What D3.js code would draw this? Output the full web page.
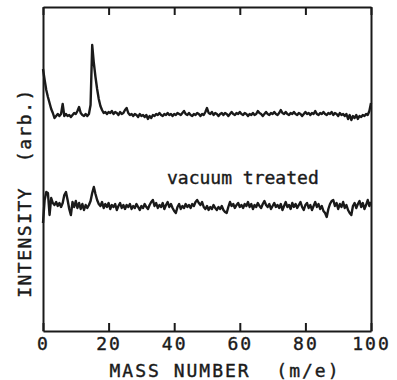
<!DOCTYPE html>
<html>
<head>
<meta charset="utf-8">
<script src="https://cdn.jsdelivr.net/npm/d3@7"></script>
<style>
  body { margin: 0; background: #fff; }
  text { font-family: "DejaVu Sans Mono", monospace; fill: #1a1a1a; }
</style>
</head>
<body>
<div id="chart"></div>
<script>
// mass spectrum, two traces: as received (top) and vacuum treated (bottom)
// one value per half mass unit, from m/e = 0 to 100
const massStep = 0.5;

const asReceived = [
  262, 251, 241, 234, 228, 222, 218, 213, 215, 217, 215, 217, 227, 215, 217, 215, 216, 214, 216, 218,
  217, 220, 224, 218, 216, 215, 217, 215, 217, 226, 286, 268, 254, 242, 232, 225, 221, 218, 219, 217,
  219, 218, 220, 217, 219, 218, 216, 219, 217, 218, 221, 223, 218, 216, 217, 215, 217, 216, 214, 217,
  215, 216, 214, 216, 212, 215, 213, 216, 215, 217, 216, 218, 216, 215, 217, 216, 218, 216, 217, 215,
  217, 216, 218, 217, 216, 218, 220, 217, 216, 218, 216, 215, 217, 216, 218, 217, 215, 217, 216, 219,
  223, 218, 217, 219, 216, 218, 217, 215, 217, 218, 216, 218, 217, 215, 217, 219, 217, 216, 218, 217,
  219, 217, 216, 218, 217, 215, 217, 216, 218, 216, 217, 220, 218, 217, 215, 217, 219, 217, 216, 218,
  217, 219, 217, 216, 218, 221, 218, 217, 219, 217, 216, 218, 217, 219, 217, 216, 218, 217, 215, 217,
  219, 217, 218, 216, 218, 217, 220, 217, 216, 218, 217, 219, 217, 216, 218, 217, 219, 216, 218, 217,
  215, 218, 216, 217, 215, 217, 212, 216, 211, 215, 213, 216, 212, 215, 214, 216, 215, 217, 216, 220,
  228
];

const vacuumTreated = [
  108, 131, 139, 138, 116, 133, 128, 126, 129, 125, 128, 124, 128, 136, 139, 131, 122, 116, 129, 124,
  130, 123, 128, 122, 127, 121, 126, 123, 126, 130, 138, 144, 137, 131, 127, 125, 129, 123, 127, 124,
  128, 122, 126, 124, 127, 121, 125, 128, 123, 126, 122, 126, 124, 127, 122, 125, 123, 127, 124, 121,
  125, 123, 127, 124, 122, 126, 129, 131, 125, 128, 123, 126, 124, 128, 122, 126, 129, 124, 127, 123,
  120, 118, 124, 127, 122, 125, 123, 127, 124, 126, 123, 127, 125, 129, 131, 128, 126, 129, 124, 122,
  125, 121, 124, 122, 126, 123, 121, 124, 122, 125, 121, 119, 118, 124, 129, 125, 127, 123, 126, 128,
  124, 126, 123, 127, 125, 129, 124, 127, 122, 126, 124, 128, 125, 123, 127, 130, 126, 124, 127, 122,
  125, 128, 124, 126, 123, 127, 121, 125, 129, 124, 126, 122, 128, 124, 127, 123, 126, 129, 124, 121,
  126, 128, 123, 126, 121, 125, 129, 124, 127, 122, 125, 120, 118, 114, 122, 127, 130, 131, 125, 128,
  122, 127, 124, 129, 123, 126, 121, 118, 116, 125, 128, 123, 127, 130, 124, 128, 122, 126, 131, 125,
  129
];

const xTickValues = [0, 20, 40, 60, 80, 100];
const xLabel = "MASS NUMBER  (m/e)";
const yLabel = "INTENSITY  (arb.)";
const traceLabel = "vacuum treated";

const width = 397, height = 380;
const ink = "#1a1a1a";

const svg = d3.select("#chart")
  .append("svg")
  .attr("width", width)
  .attr("height", height);

const xScale = d3.scaleLinear()
  .domain([0, 100])
  .range([43, 371]);

// arbitrary intensity units
const yScale = d3.scaleLinear()
  .domain([0, 324])
  .range([331, 7]);

// bottom axis with inward ticks and labels
const xAxis = svg.append("g")
  .attr("transform", "translate(0, 331)")
  .call(d3.axisBottom(xScale)
    .tickValues(xTickValues)
    .tickSizeInner(-8)
    .tickSizeOuter(0)
    .tickPadding(6));

// top axis, ticks only
const topAxis = svg.append("g")
  .attr("transform", "translate(0, 7)")
  .call(d3.axisTop(xScale)
    .tickValues(xTickValues)
    .tickSizeInner(-8)
    .tickSizeOuter(0)
    .tickFormat(""));

// left and right sides of the frame
const leftAxis = svg.append("g")
  .attr("transform", "translate(43, 0)")
  .call(d3.axisLeft(yScale).ticks(0).tickSizeOuter(0));

const rightAxis = svg.append("g")
  .attr("transform", "translate(371, 0)")
  .call(d3.axisRight(yScale).ticks(0).tickSizeOuter(0));

[xAxis, topAxis, leftAxis, rightAxis].forEach(g => {
  g.selectAll("path, line")
    .attr("stroke", ink)
    .attr("stroke-width", 2);
});

xAxis.selectAll("text")
  .attr("fill", ink)
  .attr("stroke", ink)
  .attr("stroke-width", 0.4)
  .style("font-size", "18px")
  .style("letter-spacing", "2px")
  .style("font-family", "DejaVu Sans Mono, monospace");

// the two traces
const line = d3.line()
  .x((d, i) => xScale(i * massStep))
  .y(d => yScale(d));

[asReceived, vacuumTreated].forEach(series => {
  svg.append("path")
    .datum(series)
    .attr("fill", "none")
    .attr("stroke", ink)
    .attr("stroke-width", 2.4)
    .attr("stroke-linejoin", "round")
    .attr("d", line);
});

// labels
svg.append("text")
  .attr("x", 225)
  .attr("y", 377)
  .attr("text-anchor", "middle")
  .attr("stroke", ink)
  .attr("stroke-width", 0.4)
  .style("white-space", "pre")
  .style("font-size", "18px")
  .style("letter-spacing", "2px")
  .text(xLabel);

svg.append("text")
  .attr("transform", "translate(31, 193) rotate(-90)")
  .attr("text-anchor", "middle")
  .attr("stroke", ink)
  .attr("stroke-width", 0.4)
  .style("white-space", "pre")
  .style("font-size", "18px")
  .style("letter-spacing", "1.5px")
  .text(yLabel);

svg.append("text")
  .attr("x", 167)
  .attr("y", 184)
  .attr("stroke", ink)
  .attr("stroke-width", 0.4)
  .style("font-size", "18px")
  .text(traceLabel);
</script>
</body>
</html>
